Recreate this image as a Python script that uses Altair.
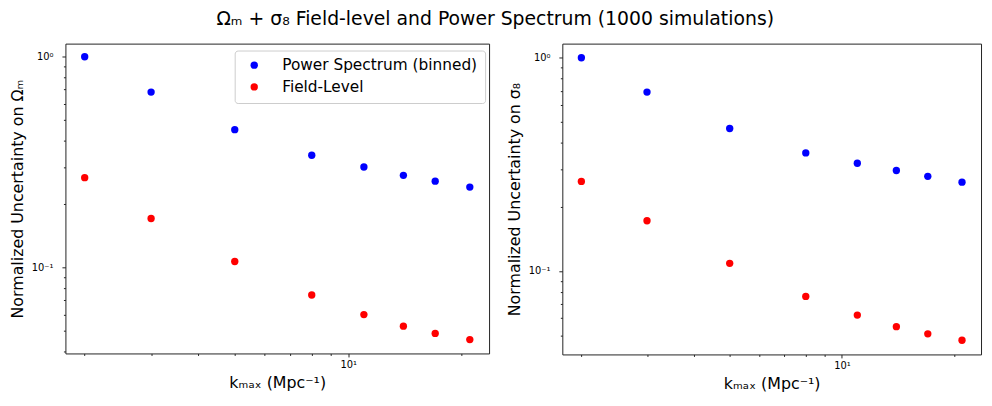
import altair as alt
import pandas as pd

# ---- data ----
k_max = [2, 3, 5, 8, 11, 14, 17, 21]
ps_omega = [1.0, 0.680, 0.451, 0.341, 0.300, 0.274, 0.257, 0.241]
fl_omega = [0.267, 0.171, 0.107, 0.0742, 0.0599, 0.0528, 0.0488, 0.0456]
ps_sigma = [1.0, 0.690, 0.466, 0.358, 0.320, 0.296, 0.278, 0.261]
fl_sigma = [0.263, 0.172, 0.1086, 0.0760, 0.0621, 0.0548, 0.0507, 0.0473]

series_names = ["Power Spectrum (binned)", "Field-Level"]
series_colors = ["#0000ff", "#ff0000"]

x_ticks = [2, 3, 4, 5, 6, 7, 8, 9, 10, 20]
y_ticks = [0.04, 0.05, 0.06, 0.07, 0.08, 0.09, 0.1,
           0.2, 0.3, 0.4, 0.5, 0.6, 0.7, 0.8, 0.9, 1]

x_domain = [1.778, 23.62]
y_domain_left = [0.0392, 1.154]
y_domain_right = [0.0406, 1.165]

FONT = "DejaVu Sans"


def frame(ps, fl):
    n = len(k_max)
    return pd.DataFrame({
        "k": k_max + k_max,
        "u": ps + fl,
        "series": [series_names[0]] * n + [series_names[1]] * n,
    })


def panel(df, ytitle, ydomain, show_legend, w, h):
    legend = None
    if show_legend:
        legend = alt.Legend(
            title=None, orient="none", legendX=171, legendY=7, padding=7,
            strokeColor="#cccccc", fillColor="white", cornerRadius=3,
            labelFontSize=15.5, labelFont=FONT, labelColor="black", labelLimit=400,
            symbolType="circle", symbolSize=55, symbolStrokeWidth=0,
            symbolOffset=5, labelOffset=20.5, rowPadding=5,
        )
    return alt.Chart(df).mark_circle(size=55, opacity=1).encode(
        x=alt.X(
            "k:Q",
            scale=alt.Scale(type="log", domain=x_domain, nice=False),
            axis=alt.Axis(
                values=x_ticks,
                labelExpr="datum.value == 10 ? '10¹' : ''",
                tickSize={"condition": {"test": "datum.value == 10", "value": 3.5}, "value": 2},
                title="kₘₐₓ (Mpc⁻¹)",
                labelPadding=3, titlePadding=5,
            ),
        ),
        y=alt.Y(
            "u:Q",
            scale=alt.Scale(type="log", domain=ydomain, nice=False),
            axis=alt.Axis(
                values=y_ticks,
                labelExpr="datum.value == 1 ? '10⁰' : (datum.value == 0.1 ? '10⁻¹' : '')",
                tickSize={"condition": {"test": "datum.value == 1 || datum.value == 0.1", "value": 3.5}, "value": 2},
                title=ytitle,
                labelPadding=9, titlePadding=6,
            ),
        ),
        color=alt.Color(
            "series:N",
            scale=alt.Scale(domain=series_names, range=series_colors),
            sort=series_names,
            legend=legend,
        ),
        order=alt.Order("series:N", sort="descending"),
    ).properties(width=w, height=h)


left = panel(frame(ps_omega, fl_omega), "Normalized Uncertainty on Ωₘ",
             y_domain_left, True, 428, 313)
right = panel(frame(ps_sigma, fl_sigma), "Normalized Uncertainty on σ₈",
              y_domain_right, False, 423, 314)

chart = alt.hconcat(left, right, spacing=74, bounds="flush").resolve_scale(
    color="independent", y="independent"
).properties(
    title=alt.TitleParams(
        "Ωₘ + σ₈ Field-level and Power Spectrum (1000 simulations)",
        font=FONT, fontSize=19, fontWeight="normal", color="black",
        anchor="middle", offset=14,
    ),
    padding={"left": 0, "top": 0, "right": 2, "bottom": 2},
).configure_view(
    stroke="#222222", strokeWidth=1,
).configure_axis(
    grid=False, domain=False,
    labelFont=FONT, labelFontSize=10, labelColor="black",
    titleFont=FONT, titleFontSize=16, titleFontWeight="normal", titleColor="black",
    tickColor="#222222", tickWidth=1,
)

chart.save("out.html", embed_options={"renderer": "svg", "actions": False})
